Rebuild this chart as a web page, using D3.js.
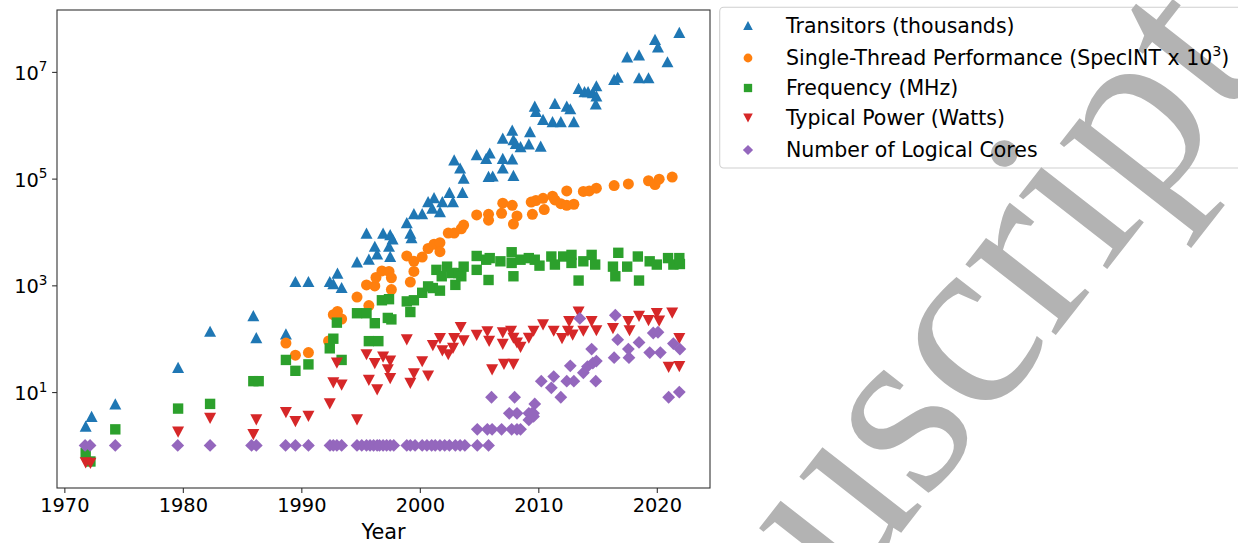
<!DOCTYPE html>
<html><head><meta charset="utf-8">
<script src="https://cdn.jsdelivr.net/npm/d3@7"></script>
<style>
body{margin:0;background:#fff}
svg{display:block}
text{font-family:"DejaVu Sans",sans-serif}
</style>
</head><body>
<svg id="chart" width="1238" height="543"></svg>
<script>
// ---------- data: [year, value] ----------
const transistors = [[1971.8,2.3],[1972.3,3.5],[1974.3,6],[1979.6,29],[1982.3,138],[1985.95,270],[1986.2,105],[1988.7,123],[1989.5,1180],[1990.6,1180],[1992.4,1180],[1992.7,1070],[1993.05,1700],[1993.4,910],[1994.7,2750],[1995.7,3100],[1996.2,5400],[1996.4,3900],[1995.5,9500],[1996.9,9500],[1997.5,8900],[1997.7,7400],[1997.4,5400],[1997.5,3500],[1998.9,15000],[1999.2,9500],[1999.3,7800],[1999.5,22000],[2000.2,22000],[2000.7,37000],[2001.2,44000],[2001.05,28000],[2001.7,24000],[2001.9,37000],[2002.5,55000],[2002.8,37000],[2003.6,55000],[2002.9,224000],[2003.4,158000],[2003.7,102000],[2004.8,282000],[2005.6,240000],[2005.8,110000],[2005.9,302000],[2007.0,240000],[2007.8,234000],[2007.0,158000],[2006.15,112000],[2007.9,115000],[2007.8,813000],[2009.3,759000],[2007.0,575000],[2007.9,537000],[2008.1,457000],[2008.5,398000],[2009.2,447000],[2010.2,407000],[2009.7,2290000],[2009.8,1820000],[2011.4,2570000],[2010.4,1290000],[2011.2,1170000],[2011.9,1170000],[2012.4,2290000],[2012.7,2040000],[2013.0,1170000],[2013.4,4900000],[2013.9,4270000],[2014.2,4270000],[2014.9,5500000],[2014.6,4070000],[2014.9,3550000],[2014.85,2510000],[2016.4,7240000],[2016.7,7940000],[2018.5,7760000],[2019.3,7760000],[2017.5,19100000],[2018.5,20900000],[2019.85,40700000],[2020.1,29500000],[2020.9,15500000],[2021.9,55000000]];

const performance = [[1988.7,83],[1989.5,49],[1990.6,55],[1992.3,91],[1992.7,282],[1993.05,324],[1993.4,234],[1994.7,603],[1995.5,1020],[1995.7,417],[1996.2,977],[1996.3,1410],[1996.8,1860],[1997.4,1820],[1997.6,1380],[1997.6,832],[1998.9,3550],[1999.2,1150],[1999.5,2820],[1999.5,1820],[2000.2,3390],[2000.7,4900],[2001.2,5890],[2001.7,6310],[2001.7,4270],[2002.4,9550],[2002.9,9550],[2003.5,11500],[2003.7,13500],[2004.8,20900],[2005.8,21400],[2005.8,16600],[2006.9,22400],[2007.0,34700],[2007.8,31600],[2008.2,20000],[2007.9,14100],[2009.5,21400],[2009.4,36300],[2009.8,38900],[2010.4,42700],[2010.5,26300],[2011.2,46800],[2011.4,39800],[2011.9,33900],[2012.4,31600],[2013.0,33100],[2012.4,58900],[2013.8,57500],[2014.3,58900],[2014.9,66100],[2016.4,74100],[2017.6,79400],[2019.3,91200],[2019.85,77600],[2020.2,97700],[2021.3,107000]];

const frequency = [[1971.8,0.72],[1972.2,0.5],[1974.3,2],[1979.6,4.9],[1982.3,6],[1985.95,16],[1986.4,16],[1988.7,40],[1989.5,25],[1990.6,33],[1992.4,66],[1992.7,100],[1993.0,200],[1993.4,40],[1994.7,300],[1995.5,300],[1995.7,90],[1996.2,195],[1996.5,90],[1996.8,525],[1997.4,550],[1997.3,245],[1997.6,230],[1998.9,500],[1999.2,316],[1999.5,525],[2000.2,725],[2000.7,955],[2001.1,890],[2001.7,795],[2001.4,1950],[2001.85,1480],[2002.3,2240],[2002.7,1700],[2003.0,1020],[2003.25,1700],[2003.7,2240],[2003.5,1480],[2004.8,3550],[2004.8,1950],[2005.6,3020],[2005.9,3240],[2005.8,1260],[2006.8,2820],[2007.75,4170],[2007.75,2630],[2007.9,1480],[2008.5,3020],[2009.2,3240],[2009.7,3020],[2010.1,2340],[2011.1,3470],[2011.4,2450],[2012.1,3470],[2012.8,3720],[2012.8,2630],[2013.4,1230],[2013.8,2820],[2014.5,3720],[2014.8,2450],[2016.3,2240],[2016.5,1480],[2016.75,4070],[2017.5,2240],[2018.4,3470],[2018.5,1230],[2019.4,2820],[2020.0,2450],[2020.95,3240],[2021.4,2450],[2021.9,3240],[2021.95,2510]];

const power = [[1971.8,0.47],[1972.2,0.46],[1979.6,1.78],[1982.3,3.2],[1985.95,1.6],[1986.2,3.0],[1988.7,4.1],[1989.5,2.8],[1990.6,3.5],[1992.4,6],[1992.7,14.8],[1993.0,35],[1993.4,13.5],[1994.7,3.0],[1995.5,50],[1995.7,16.6],[1996.2,34],[1996.4,11],[1996.9,45],[1997.5,38],[1997.3,26],[1997.5,17.8],[1998.9,95],[1999.2,14.5],[1999.5,22],[2000.2,37],[2000.7,20],[2001.1,74],[2001.7,100],[2001.9,59],[2002.4,50],[2002.8,66],[2002.9,100],[2003.45,162],[2003.7,91],[2004.8,115],[2005.7,135],[2005.85,89],[2006.1,26],[2007.0,129],[2007.0,78],[2007.1,33],[2007.9,33],[2007.7,138],[2007.9,102],[2008.2,83],[2008.5,69],[2009.2,102],[2009.6,138],[2010.4,182],[2011.3,138],[2012.0,100],[2012.5,138],[2012.6,209],[2012.9,117],[2013.4,316],[2013.8,138],[2014.5,209],[2014.9,141],[2016.3,155],[2017.6,209],[2017.7,141],[2018.5,263],[2019.3,219],[2020.0,295],[2020.2,214],[2021.3,302],[2021.9,100],[2021.0,29],[2021.9,30]];

const cores = [[1971.75,1],[1972.17,1],[1974.3,1],[1979.57,1],[1982.3,1],[1985.8,1],[1986.2,1],[1988.67,1],[1989.5,1],[1990.6,1],[1992.42,1],[1992.7,1],[1993.0,1],[1993.4,1],[1994.7,1],[1995.1,1],[1995.5,1],[1995.8,1],[1996.1,1],[1996.4,1],[1996.6,1],[1996.9,1],[1997.2,1],[1997.5,1],[1997.8,1],[1998.9,1],[1999.2,1],[1999.6,1],[2000.2,1],[2000.6,1],[2001.0,1],[2001.3,1],[2001.7,1],[2002.1,1],[2002.5,1],[2003.0,1],[2003.4,1],[2003.8,1],[2004.85,1],[2005.8,1],[2004.85,2],[2005.7,2],[2006.1,2],[2006.9,2],[2007.75,2],[2008.2,2],[2008.5,2],[2007.55,4],[2008.2,4],[2009.2,4],[2009.6,4],[2006.05,8],[2008.0,8],[2009.2,3],[2009.6,3.5],[2009.7,6],[2009.45,4],[2010.25,16],[2011.3,19.5],[2011.1,12],[2011.9,8],[2012.4,16],[2012.7,31],[2013.0,16],[2013.5,240],[2013.8,23],[2014.15,30],[2014.6,35],[2014.9,38],[2014.85,16],[2014.5,64],[2016.5,275],[2016.7,96],[2016.4,44],[2017.6,64],[2017.65,44],[2018.5,85],[2019.4,55],[2019.7,128],[2020.1,132],[2020.3,55],[2021.4,81],[2021.95,64],[2021.0,8],[2021.9,10]];

const seriesNames = ["Transitors (thousands)","Single-Thread Performance (SpecINT x 10","Frequency (MHz)","Typical Power (Watts)","Number of Logical Cores"];
const seriesColors = ["#1f77b4","#ff7f0e","#2ca02c","#d62728","#9467bd"];
const seriesShapes = ["triUp","circle","square","triDown","diamond"];
const xTicks = [1970,1980,1990,2000,2010,2020];
const yTickExponents = [1,3,5,7];
const xLabel = "Year";
const watermark = "Manuscript";

// ---------- layout ----------
const svg = d3.select("#chart");
const L = 57, R = 710, T = 10, B = 488;
const x = d3.scaleLinear().domain([1969.38, 2024.49]).range([L, R]);
const y = d3.scaleLog().domain([Math.pow(10,-0.798), Math.pow(10,8.16)]).range([B, T]);

function shapePath(shape, s) {
  switch (shape) {
    case "triUp":   { const w=6*s, h=5.6*s; return `M0,${-h}L${w},${h}L${-w},${h}Z`; }
    case "triDown": { const w=6*s, h=5.6*s; return `M0,${h}L${w},${-h}L${-w},${-h}Z`; }
    case "square":  { const a=5.2*s; return `M${-a},${-a}H${a}V${a}H${-a}Z`; }
    case "diamond": { const a=6.4*s; return `M0,${-a}L${a},0L0,${a}L${-a},0Z`; }
    case "circle":  { const r=5.5*s; return `M${r},0A${r},${r} 0 1,1 ${-r},0A${r},${r} 0 1,1 ${r},0Z`; }
  }
}

const dataSets = [transistors, performance, frequency, power, cores];

// marks
const plot = svg.append("g");
dataSets.forEach((ds, i) => {
  plot.append("g").selectAll("path").data(ds).join("path")
    .attr("d", shapePath(seriesShapes[i], 1))
    .attr("transform", d => `translate(${x(d[0])},${y(d[1])})`)
    .attr("fill", seriesColors[i]);
});

// frame
svg.append("rect").attr("x", L).attr("y", T).attr("width", R-L).attr("height", B-T)
  .attr("fill", "none").attr("stroke", "#333").attr("stroke-width", 1.1);

// x axis
const xAxis = svg.append("g").attr("transform", `translate(0,${B})`)
  .call(d3.axisBottom(x).tickValues(xTicks).tickFormat(d3.format("d")).tickSize(4.9).tickPadding(5));
xAxis.select(".domain").remove();
xAxis.selectAll(".tick line").attr("stroke", "#333").attr("stroke-width", 1.1);
xAxis.selectAll(".tick text").attr("font-size", 19.4).attr("font-family", "DejaVu Sans").style("fill", "#000").attr("dy", "0.75em");

svg.append("text").attr("x", (L+R)/2).attr("y", 539).attr("text-anchor", "middle")
  .attr("font-size", 20.8).style("fill", "#000").text(xLabel);

// y axis
const yTickVals = yTickExponents.map(e => Math.pow(10, e));
const yAxis = svg.append("g").attr("transform", `translate(${L},0)`)
  .call(d3.axisLeft(y).tickValues(yTickVals).tickFormat("").tickSize(4.9));
yAxis.select(".domain").remove();
yAxis.selectAll(".tick line").attr("stroke", "#333").attr("stroke-width", 1.1);
yAxis.selectAll(".tick").each(function(d) {
  const e = Math.round(Math.log10(d));
  const t = d3.select(this).append("text").attr("x", -9.5).attr("y", 7.5)
    .attr("text-anchor", "end").attr("font-size", 19.4).style("fill", "#000");
  t.append("tspan").text("10");
  t.append("tspan").attr("font-size", 13.6).attr("dy", -8.5).text(String(e));
});

// legend box
const lg = svg.append("g");
lg.append("rect").attr("x", 719.7).attr("y", 7.3).attr("width", 540).attr("height", 160.7)
  .attr("rx", 4).attr("fill", "#fff").attr("fill-opacity", 0.8).attr("stroke", "#d0d0d0").attr("stroke-width", 1.1);

// watermark (over the legend frame, under the legend entries)
svg.append("text").attr("text-anchor", "middle")
  .attr("transform", "translate(916,514) rotate(-52)")
  .attr("font-size", 250)
  .style("font-family", "'Liberation Serif', serif")
  .style("fill", "#b3b3b3").text(watermark);

// legend entries
const le = svg.append("g");
const rowBase = [32.5, 65, 95, 125, 157];
seriesNames.forEach((name, i) => {
  le.append("path").attr("d", shapePath(seriesShapes[i], 0.8))
    .attr("transform", `translate(748,${rowBase[i]-7})`).attr("fill", seriesColors[i]);
  const t = le.append("text").attr("x", 786).attr("y", rowBase[i]).attr("font-size", 20.5).style("fill", "#000");
  t.append("tspan").text(name);
  if (i === 1) {
    t.append("tspan").attr("font-size", 14.3).attr("dy", -9).text("3");
    t.append("tspan").attr("dy", 9).text(")");
  }
});
</script>
</body></html>
